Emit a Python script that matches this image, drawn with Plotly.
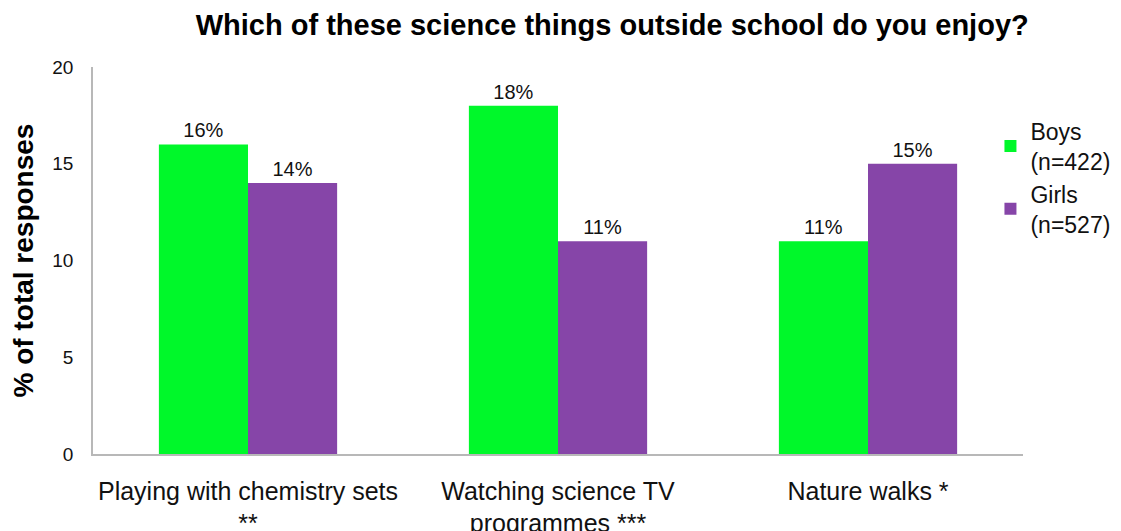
import plotly.graph_objects as go

categories = ["Playing with chemistry sets<br>**", "Watching science TV<br>programmes ***", "Nature walks *"]
boys = [16, 18, 11]
girls = [14, 11, 15]
y_ticks = [0, 5, 10, 15, 20]

GREEN = "#00f82a"
PURPLE = "#8645a8"
FONT = "Liberation Sans, Arial, sans-serif"

fig = go.Figure()
fig.add_trace(go.Bar(
    x=categories, y=boys, name="Boys<br>(n=422)",
    marker=dict(color=GREEN, line=dict(width=0)),
    text=[f"{v}%" for v in boys], textposition="outside",
    textfont=dict(size=20, color="#111"), cliponaxis=False,
))
fig.add_trace(go.Bar(
    x=categories, y=girls, name="Girls<br>(n=527)",
    marker=dict(color=PURPLE, line=dict(width=0)),
    text=[f"{v}%" for v in girls], textposition="outside",
    textfont=dict(size=20, color="#111"), cliponaxis=False,
))

# the page body adds an 8px offset, so margins are shifted up/left by 8
fig.update_layout(
    width=1121, height=531,
    margin=dict(l=85, r=106, t=59, b=85, autoexpand=False),
    paper_bgcolor="white", plot_bgcolor="white",
    font=dict(family=FONT, color="#111", size=20),
    barmode="group", bargap=0.425, bargroupgap=0,
    title=dict(text="<b>Which of these science things outside school do you enjoy?</b>",
               x=0.539, xanchor="center", y=0.968, yanchor="middle",
               font=dict(size=29, color="#000")),
    legend=dict(x=0.965, xanchor="left", y=0.89, yanchor="top",
                font=dict(size=23, color="#111"), itemwidth=30,
                tracegroupgap=2, bgcolor="rgba(0,0,0,0)"),
    xaxis=dict(showgrid=False, zeroline=False, showline=True, linecolor="#b8b8b8",
               linewidth=1.5, ticks="", ticklabelstandoff=14,
               tickfont=dict(size=25, color="#111")),
    yaxis=dict(range=[0, 20], tickvals=y_ticks, showgrid=False, zeroline=False,
               showline=True, linecolor="#b8b8b8", linewidth=1.5, ticks="",
               ticklen=0, ticklabelstandoff=14, tickfont=dict(size=19, color="#111"),
               title=dict(text="<b>% of total responses</b>", font=dict(size=28, color="#000"),
                          standoff=12)),
)

fig.write_html("out.html")
